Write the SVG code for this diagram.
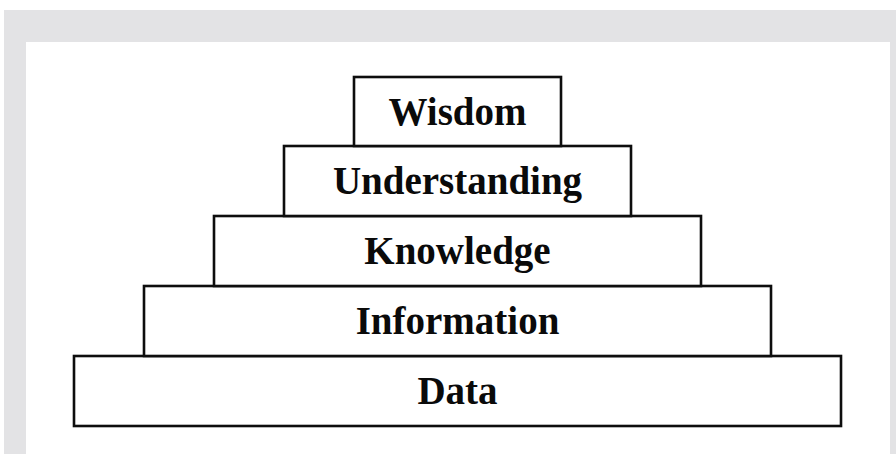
<svg xmlns="http://www.w3.org/2000/svg" width="896" height="454" viewBox="0 0 896 454">
  <style>
    .tier rect { fill: #ffffff; stroke: #0d0d0d; stroke-width: 2.6; }
    .tier text { font-family: "Liberation Serif", "Times New Roman", serif; font-weight: bold; font-size: 39px; fill: #0a0a0a; text-anchor: middle; }
  </style>
  <!-- page frame -->
  <rect x="0" y="0" width="896" height="454" fill="#ffffff"/>
  <rect x="4" y="10" width="892" height="444" fill="#e3e3e5"/>
  <rect x="26" y="42" width="864" height="412" fill="#ffffff"/>

  <!-- pyramid tiers, bottom to top -->
  <g id="data" class="tier">
    <rect x="74" y="356" width="767" height="70"/>
    <text x="457.5" y="404">Data</text>
  </g>
  <g id="information" class="tier">
    <rect x="144" y="286" width="627" height="70"/>
    <text x="457.5" y="334">Information</text>
  </g>
  <g id="knowledge" class="tier">
    <rect x="214" y="216" width="487" height="70"/>
    <text x="457.5" y="264">Knowledge</text>
  </g>
  <g id="understanding" class="tier">
    <rect x="284" y="146" width="347" height="70"/>
    <text x="457.5" y="194">Understanding</text>
  </g>
  <g id="wisdom" class="tier">
    <rect x="354" y="77" width="207" height="69"/>
    <text x="457.5" y="125">Wisdom</text>
  </g>
  <g id="connectors"/>
</svg>
